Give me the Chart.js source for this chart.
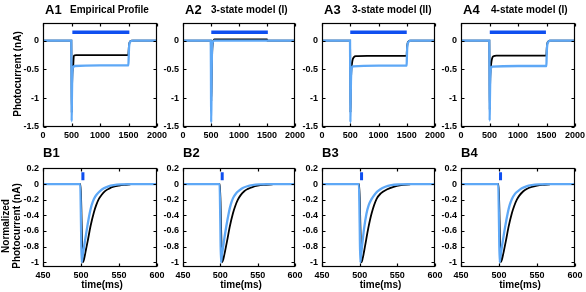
<!DOCTYPE html>
<html><head><meta charset="utf-8">
<script src="https://cdn.jsdelivr.net/npm/chart.js@4.4.0/dist/chart.umd.min.js"></script>
<style>
html,body{margin:0;padding:0;background:#fff;}
body{width:586px;height:292px;position:relative;overflow:hidden;font-family:"Liberation Sans",Arial,sans-serif;font-weight:bold;color:#000;}
canvas{position:absolute;}
.t{position:absolute;white-space:nowrap;line-height:1;}
.pl{font-size:13px;}
.st{font-size:10px;}
.yl{font-size:10px;transform:translate(-50%,-50%) rotate(-90deg);}
.xl{font-size:10px;transform:translateX(-50%);}
</style></head><body>
<script>
// ---- tick labels ----
const topXTicks = [0, 500, 1000, 1500, 2000];
const topYTicks = [-1.5, -1, -0.5, 0];
const botXTicks = [450, 500, 550, 600];
const botYTicks = [-1, -0.8, -0.6, -0.4, -0.2, 0, 0.2];
const panelLabelsA = ["A1", "A2", "A3", "A4"];
const panelLabelsB = ["B1", "B2", "B3", "B4"];
const subtitlesA = ["Empirical Profile", "3-state model (I)", "3-state model (II)", "4-state model (I)"];

// ---- top row: photocurrent (nA) vs time (ms) ----
const a1Blue = [[0,0],[496,0],[500,-0.7],[503,-1.4],[507,-1.0],[512,-0.65],[519,-0.5],[530,-0.46],[560,-0.44],[1000,-0.43],[1498,-0.43],[1503,-0.3],[1508,-0.15],[1515,-0.06],[1528,-0.02],[1550,-0.005],[1580,0],[2000,0]];
const a1Black = [[0,0],[497,0],[501,-0.6],[504,-1.25],[508,-0.9],[515,-0.6],[524,-0.47],[531,-0.43],[536,-0.32],[542,-0.26],[580,-0.25],[1000,-0.25],[1496,-0.25],[1502,-0.18],[1508,-0.09],[1516,-0.04],[1530,-0.012],[1555,0],[2000,0]];
const a1Light = [[515,0.145],[1515,0.145]];

const a2Blue = [[0,0],[496,0],[500,-0.7],[503,-1.42],[507,-1.1],[511,-0.6],[516,-0.25],[523,-0.08],[535,-0.02],[555,0],[2000,0]];
const a2Black = [[0,0],[497,0],[501,-0.5],[505,-1.05],[510,-0.8],[515,-0.45],[521,-0.2],[530,-0.06],[542,0],[560,0.02],[1500,0.02],[1506,0],[2000,0]];
const a2Light = [[505,0.145],[1515,0.145]];

const a3Blue = [[0,0],[496,0],[500,-0.7],[503,-1.42],[507,-1.05],[512,-0.72],[519,-0.53],[530,-0.47],[550,-0.445],[1000,-0.435],[1498,-0.435],[1502,-0.3],[1507,-0.15],[1514,-0.07],[1525,-0.03],[1542,-0.01],[1570,0],[2000,0]];
const a3Black = [[0,0],[497,0],[501,-0.6],[504,-1.25],[508,-0.95],[512,-0.72],[517,-0.57],[524,-0.46],[533,-0.38],[546,-0.32],[565,-0.285],[600,-0.27],[800,-0.265],[1497,-0.265],[1502,-0.18],[1508,-0.09],[1516,-0.04],[1530,-0.015],[1555,0],[2000,0]];
const a3Light = [[500,0.145],[1500,0.145]];

const a4Blue = [[0,0],[496,0],[500,-0.7],[503,-1.39],[507,-1.03],[512,-0.7],[519,-0.53],[530,-0.47],[550,-0.45],[1000,-0.44],[1498,-0.44],[1502,-0.3],[1507,-0.15],[1514,-0.07],[1525,-0.03],[1542,-0.01],[1570,0],[2000,0]];
const a4Black = [[0,0],[497,0],[501,-0.6],[504,-1.2],[508,-0.9],[513,-0.66],[519,-0.52],[526,-0.44],[535,-0.36],[548,-0.3],[568,-0.27],[620,-0.26],[1497,-0.26],[1502,-0.18],[1508,-0.09],[1516,-0.04],[1530,-0.015],[1555,0],[2000,0]];
const a4Light = [[505,0.145],[1490,0.145]];

// ---- bottom row: normalized photocurrent vs time (ms) ----
const b1Blue = [[450,0],[499,0],[500,-0.5],[500.8,-1.0],[502,-0.93],[504.5,-0.77],[508,-0.56],[511.5,-0.37],[514,-0.27],[517,-0.19],[521,-0.13],[525,-0.09],[530,-0.055],[536,-0.03],[543,-0.015],[552,-0.005],[565,0],[600,0]];
const b1Black = [[450,0],[499.5,0],[501,-0.55],[502.3,-1.0],[504,-0.96],[506.5,-0.84],[509,-0.72],[512.5,-0.54],[517,-0.36],[520,-0.27],[523.5,-0.19],[527,-0.14],[532,-0.088],[537,-0.058],[543,-0.034],[550,-0.019],[557,-0.01],[565,-0.004]];
const b1Light = [[500.5,0.1],[504.5,0.1]];

const b2Blue = [[450,0],[499,0],[500,-0.5],[500.8,-1.0],[502,-0.92],[504.5,-0.75],[508,-0.54],[511.5,-0.36],[514,-0.26],[517,-0.18],[521,-0.12],[525,-0.085],[530,-0.05],[536,-0.028],[543,-0.014],[552,-0.005],[565,0],[600,0]];
const b2Black = [[450,0],[499.5,0],[501,-0.55],[502.3,-1.0],[504,-0.96],[506.5,-0.85],[509,-0.73],[512.5,-0.55],[517,-0.37],[520,-0.28],[523.5,-0.2],[527,-0.145],[532,-0.092],[537,-0.062],[543,-0.038],[550,-0.021],[558,-0.011],[570,-0.004]];
const b2Light = [[500.5,0.1],[504.5,0.1]];

const b3Blue = [[450,0],[499,0],[500,-0.5],[500.8,-1.0],[502,-0.9],[504,-0.72],[506,-0.56],[509,-0.38],[512,-0.27],[516,-0.19],[521,-0.12],[527,-0.07],[534,-0.035],[542,-0.015],[552,-0.005],[565,0],[600,0]];
const b3Black = [[450,0],[499.5,0],[501,-0.55],[502.3,-1.0],[504,-0.95],[507,-0.8],[511.5,-0.56],[516,-0.37],[522.5,-0.19],[528,-0.12],[536,-0.07],[545,-0.035],[555,-0.015],[567,-0.005]];
const b3Light = [[500.5,0.1],[504.5,0.1]];

const b4Blue = [[450,0],[499,0],[500,-0.5],[500.8,-1.0],[502,-0.92],[504.5,-0.76],[508,-0.55],[511.5,-0.37],[514,-0.27],[517,-0.19],[521,-0.125],[525,-0.09],[530,-0.055],[536,-0.03],[543,-0.015],[552,-0.005],[565,0],[600,0]];
const b4Black = [[450,0],[499.5,0],[501,-0.55],[502.3,-1.0],[504,-0.96],[506.5,-0.85],[509,-0.73],[512.5,-0.55],[517,-0.37],[520,-0.28],[523.5,-0.2],[527,-0.145],[532,-0.092],[537,-0.06],[543,-0.036],[550,-0.02],[557,-0.01],[567,-0.004]];
const b4Light = [[500,0.1],[504,0.1]];

// ---- styles / layout ----
const COL_LIGHTBLUE = '#5ea8f6';
const COL_BLACK = '#000000';
const COL_BAR = '#0f4ff0';
const TICK_FONT = {family: "'Liberation Sans',Arial,sans-serif", size: 9, weight: 'bold'};
const colL = [43, 183, 322, 461];
const colR = [157, 295, 435, 575];
const rowA = {t: 20, b: 127};
const rowB = {t: 165, b: 267};

const boxPlugin = {
  id: 'box',
  afterDraw(ch) {
    const {ctx, chartArea: a, scales: {x, y}} = ch;
    ctx.save();
    ctx.strokeStyle = '#000';
    ctx.lineWidth = 1.2;
    const L = Math.round(a.left) + 0.5, T = Math.round(a.top) + 0.5;
    const R = Math.round(a.right) - 0.5, B = Math.round(a.bottom) - 0.5;
    ctx.strokeRect(L, T, R - L, B - T);
    ctx.beginPath();
    x.ticks.forEach(t => {
      const p = Math.round(x.getPixelForValue(t.value)) + 0.5;
      ctx.moveTo(p, B); ctx.lineTo(p, B - 3);
      ctx.moveTo(p, T); ctx.lineTo(p, T + 3);
    });
    y.ticks.forEach(t => {
      const p = Math.round(y.getPixelForValue(t.value)) + 0.5;
      ctx.moveTo(L, p); ctx.lineTo(L + 3, p);
      ctx.moveTo(R, p); ctx.lineTo(R - 3, p);
    });
    ctx.stroke();
    ctx.restore();
  }
};

function pts(arr) { return arr.map(([x, y]) => ({x, y})); }

function makePanel(l, r, t, b, xr, yr, xt, yt, blue, black, bar, barW) {
  const PL = 36, PR = 14, PT = 6, PB = 18;
  const w = r - l + PL + PR, h = b - t + PT + PB;
  const c = document.createElement('canvas');
  c.width = w; c.height = h;
  c.style.left = (l - PL) + 'px'; c.style.top = (t - PT) + 'px';
  c.style.width = w + 'px'; c.style.height = h + 'px';
  document.body.appendChild(c);
  const common = {pointRadius: 0, fill: false, cubicInterpolationMode: 'monotone'};
  new Chart(c, {
    type: 'line',
    data: {datasets: [
      Object.assign({data: pts(blue), borderColor: COL_LIGHTBLUE, borderWidth: 2.3}, common),
      Object.assign({data: pts(black), borderColor: COL_BLACK, borderWidth: 1.8}, common),
      {data: pts(bar), borderColor: COL_BAR, borderWidth: barW, pointRadius: 0, tension: 0, borderCapStyle: 'butt'}
    ]},
    options: {
      responsive: false, animation: false, devicePixelRatio: 1,
      layout: {padding: {left: 0, right: PR, top: PT, bottom: 0}},
      plugins: {legend: {display: false}, tooltip: {enabled: false}},
      scales: {
        x: {type: 'linear', min: xr[0], max: xr[1],
            grid: {display: false, drawTicks: false}, border: {display: false},
            afterBuildTicks: s => { s.ticks = xt.map(v => ({value: v})); },
            afterFit: s => { s.height = PB; },
            ticks: {padding: 3, maxRotation: 0, autoSkip: false, color: '#000', font: TICK_FONT, callback: v => String(v)}},
        y: {type: 'linear', min: yr[0], max: yr[1],
            grid: {display: false, drawTicks: false}, border: {display: false},
            afterBuildTicks: s => { s.ticks = yt.map(v => ({value: v})); },
            afterFit: s => { s.width = PL; },
            ticks: {padding: 4, autoSkip: false, color: '#000', font: TICK_FONT, callback: v => String(v)}}
      }
    },
    plugins: [boxPlugin]
  });
}

function addText(cls, txt, x, y) {
  const d = document.createElement('div');
  d.className = 't ' + cls; d.textContent = txt;
  d.style.left = x + 'px'; d.style.top = y + 'px';
  document.body.appendChild(d);
}

const topSets = [[a1Blue, a1Black, a1Light], [a2Blue, a2Black, a2Light], [a3Blue, a3Black, a3Light], [a4Blue, a4Black, a4Light]];
const botSets = [[b1Blue, b1Black, b1Light], [b2Blue, b2Black, b2Light], [b3Blue, b3Black, b3Light], [b4Blue, b4Black, b4Light]];
const subX = [70, 211, 352, 491];

for (let i = 0; i < 4; i++) {
  makePanel(colL[i], colR[i], rowA.t, rowA.b, [0, 2000], [-1.5, 0.3], topXTicks, topYTicks, topSets[i][0], topSets[i][1], topSets[i][2], 3.5);
  makePanel(colL[i], colR[i], rowB.t, rowB.b, [450, 600], [-1.06, 0.2], botXTicks, botYTicks, botSets[i][0], botSets[i][1], botSets[i][2], 8);
  addText('pl', panelLabelsA[i], colL[i] + 2, 3);
  addText('st', subtitlesA[i], subX[i], 5);
  addText('pl', panelLabelsB[i], colL[i], 146);
  addText('xl', 'time(ms)', (colL[i] + colR[i]) / 2 + 2, 280);
}
addText('yl', 'Photocurrent (nA)', 17.5, 73.5);
addText('yl', 'Normalized', 6, 226);
addText('yl', 'Photocurrent (nA)', 17, 226);
</script>
</body></html>
